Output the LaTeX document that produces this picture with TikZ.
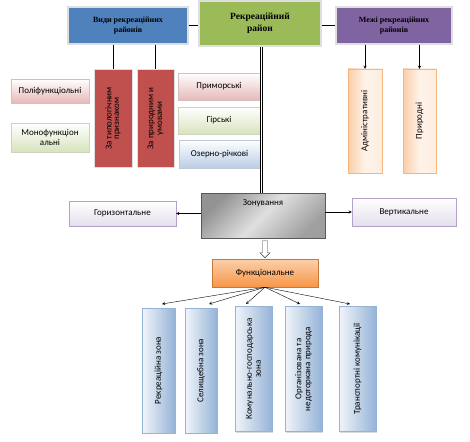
\documentclass[tikz,border=0pt]{standalone}
\usepackage{fontspec}
\setmainfont{Carlito}
\newfontfamily\timesfont{Liberation Serif}
\usetikzlibrary{shapes.arrows,shadows}
\definecolor{hdblue}{HTML}{4F81BD}
\definecolor{hdgreen}{HTML}{9BBB59}
\definecolor{hdpurple}{HTML}{8064A2}
\definecolor{hdred}{HTML}{C0504D}
\definecolor{lpink}{HTML}{E6B9B8}
\definecolor{lgreen}{HTML}{D7E4BD}
\definecolor{lblue}{HTML}{B9CDE5}
\definecolor{lbluedk}{HTML}{95B3D7}
\definecolor{lpeach}{HTML}{FBD4B4}
\definecolor{orng}{HTML}{F79646}
\definecolor{lavender}{HTML}{B3A2C7}
\newcommand{\vtext}[1]{\rotatebox{90}{\shortstack{#1}}}
\begin{document}
\begin{tikzpicture}[x=1pt,y=-1pt,>=stealth,
  font=\fontsize{9}{10}\selectfont,
  shade/.style={drop shadow={shadow xshift=1pt,shadow yshift=-1.2pt,opacity=.3,fill=gray}},
  headbox/.style={shade, draw=gray!25, line width=1.2pt, align=center, inner sep=1pt, font=\timesfont\bfseries\fontsize{8}{10}\selectfont},
  redbox/.style={shade, draw=gray!25, line width=1pt, fill=hdred, inner sep=1pt, minimum height=97pt},
  sidebox/.style={shade, draw=#1!80!black!60, top color=white, bottom color=#1, align=center, inner sep=1pt},
  peachbox/.style={shade, draw=orng!70, left color=lpeach!90!orng, right color=lpeach!40, middle color=lpeach!30, minimum width=34pt, minimum height=104pt, inner sep=1pt},
  lavbox/.style={shade, draw=lavender, top color=white, bottom color=lavender!35, inner sep=1pt},
  zonebox/.style={shade, draw=gray!70!black, left color=gray!85, right color=gray!75, middle color=gray!25, shading angle=45},
  bluebox/.style={shade, draw=lbluedk, left color=lblue!20, right color=lbluedk, minimum height=125pt, inner sep=1pt},
  hollow/.style={single arrow, draw=black!80, fill=white, shape border rotate=270, minimum height=17pt, minimum width=10pt, single arrow head extend=2.5pt, inner sep=2.3pt}]
\useasboundingbox (0,0) rectangle (470,441);

\node[headbox, fill=hdblue, minimum width=120pt, minimum height=37pt] (vydy) at (128,25.5) {Види рекреаційних\\районів};
\node[headbox, fill=hdgreen, minimum width=122pt, minimum height=45pt, font=\timesfont\bfseries\fontsize{9.5}{12}\selectfont] (rajon) at (260,23.5) {Рекреаційний\\район};
\node[headbox, fill=hdpurple, minimum width=116pt, minimum height=37pt] (mezhi) at (394,25.5) {Межі рекреаційних\\районів};

\node[redbox, minimum width=38pt] (typ) at (113,118.5) {\vtext{За типологічним\\признаком}};
\node[redbox, minimum width=37pt] (pryr) at (155.5,118.5) {\vtext{За природним и\\умовами}};

\node[sidebox=lpink, minimum width=78pt, minimum height=24pt] (poli) at (50,91) {Поліфункціольні};
\node[sidebox=lgreen, minimum width=78pt, minimum height=29pt] (mono) at (50,137.5) {Монофункціон\\альні};

\node[sidebox=lpink, minimum width=82pt, minimum height=27pt] (prym) at (219,86.5) {Приморські};
\node[sidebox=lgreen, minimum width=82pt, minimum height=27pt] (hir) at (219,120.5) {Гірські};
\node[sidebox=lblue, minimum width=81pt, minimum height=28pt] (ozer) at (219.5,154) {Озерно-річкові};

\node[peachbox] (admin) at (365,121) {\vtext{Адміністративні}};
\node[peachbox, minimum width=33pt] (pryrodni) at (419.5,121) {\vtext{Природні}};

\node[lavbox, minimum width=107pt, minimum height=25pt] (hor) at (122.5,213.5) {Горизонтальне};
\node[zonebox, minimum width=124pt, minimum height=45pt, label={[anchor=north, yshift=-3pt]north:Зонування}] (zon) at (263,215.5) {};
\node[lavbox, minimum width=104pt, minimum height=28pt] (vert) at (404,212) {Вертикальне};

\node[hollow] (down) at (265,248) {};
\node[shade, draw=orng!80!black, top color=orng!45, bottom color=orng, minimum width=106pt, minimum height=28pt] (funk) at (265,273) {Функціональне};

\node[bluebox, minimum width=33pt] (rekr) at (158.5,370.5) {\vtext{Рекреаційна зона}};
\node[bluebox, minimum width=32pt] (sel) at (201,370.5) {\vtext{Селищебна зона}};
\node[bluebox, minimum width=37pt] (kom) at (253.5,369) {\vtext{Комунально-господарська\\зона}};
\node[bluebox, minimum width=37pt] (org) at (303.5,369) {\vtext{Організована та\\недоторкана природа}};
\node[bluebox, minimum width=37pt] (tran) at (357.5,369) {\vtext{Транспортні комунікації}};

\coordinate (t1) at (162,304);
\coordinate (t2) at (209,304);
\coordinate (t3) at (246,304);
\coordinate (t4) at (300,304);
\coordinate (t5) at (350,304);

\draw (vydy.east) -- (vydy.east -| rajon.west);
\draw (rajon.east |- mezhi.west) -- (mezhi.west);
\draw (vydy.south -| typ.north) -- (typ.north);
\draw (vydy.south -| pryr.north) -- (pryr.north);
\draw[->] (mezhi.south -| admin.north) -- (admin.north);
\draw[->] (mezhi.south -| pryrodni.north) -- (pryrodni.north);
\draw[double, double distance=1.6pt] ([xshift=1.5pt]rajon.south) -- ([xshift=1.5pt]rajon.south |- zon.north);
\draw[->] (zon.west |- hor.east) -- (hor.east);
\draw[->] (zon.east |- vert.west) -- (vert.west);
\draw[->] (funk.south) -- (t1);
\draw[->] (funk.south) -- (t2);
\draw[->] (funk.south) -- (t3);
\draw[->] (funk.south) -- (t4);
\draw[->] (funk.south) -- (t5);
\end{tikzpicture}
\end{document}
